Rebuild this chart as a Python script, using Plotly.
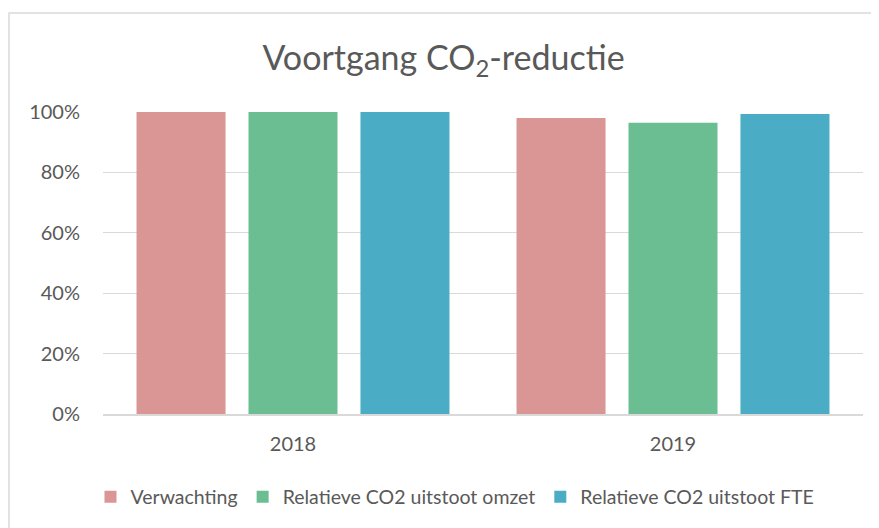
import plotly.graph_objects as go

categories = ["2018", "2019"]
series_names = ["Verwachting", "Relatieve CO2 uitstoot omzet", "Relatieve CO2 uitstoot FTE"]
verwachting = [1.00, 0.980]
omzet = [1.00, 0.964]
fte = [1.00, 0.993]
colors = ["#D99694", "#6ABE92", "#4BACC6"]

fig = go.Figure()
for name, vals, col in zip(series_names, [verwachting, omzet, fte], colors):
    fig.add_trace(go.Bar(x=categories, y=vals, name=name, marker=dict(color=col, line=dict(width=0))))

# page body has an 8px offset; figure coordinates below are shifted accordingly
W, H = 871, 520
L, R, T, B = 95, 16, 104, 114
PW, PH = W - L - R, H - T - B

font_family = "Lato, Open Sans, sans-serif"
fig.update_layout(
    width=W, height=H,
    margin=dict(l=L, r=R, t=T, b=B, autoexpand=False),
    paper_bgcolor="white", plot_bgcolor="white",
    barmode="group", bargap=0.116, bargroupgap=0.205,
    title=dict(text="Voortgang CO<sub>2</sub>-reductie", x=0.5, xanchor="center",
               y=1 - 50 / H, yanchor="middle",
               font=dict(family=font_family, size=34, color="#595959")),
    font=dict(family=font_family, color="#595959", size=20),
    showlegend=True,
    legend=dict(orientation="h", x=(447 - L) / PW, xanchor="center", y=(H - B - 489) / PH,
                yanchor="middle",
                font=dict(size=19.5, color="#595959"), itemwidth=30, traceorder="normal",
                itemclick=False),
    xaxis=dict(showgrid=False, showline=True, linecolor="#D9D9D9", linewidth=1.5,
               ticks="", tickfont=dict(size=20, color="#595959"), ticklabelstandoff=11),
    yaxis=dict(range=[0, 1.0], dtick=0.2, tickformat=".0%", showgrid=True,
               gridcolor="#D9D9D9", gridwidth=1.3, zeroline=False, showline=False,
               tickfont=dict(size=20, color="#595959"), ticklabelstandoff=22),
    shapes=[dict(type="rect", xref="paper", yref="paper",
                 x0=(1 - L) / PW, x1=2, y0=-2, y1=(H - B - 5) / PH,
                 line=dict(color="#D9D9D9", width=1.5), fillcolor="rgba(0,0,0,0)", layer="below")],
)

fig.write_html("out.html")
